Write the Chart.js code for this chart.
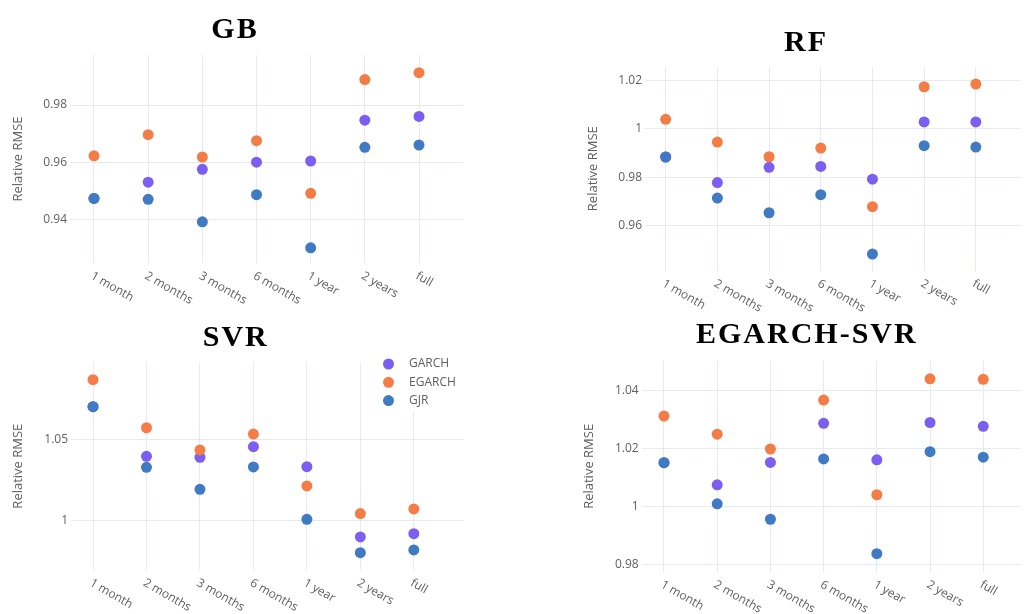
<!DOCTYPE html>
<html lang="en">
<head>
<meta charset="UTF-8">
<title>Relative RMSE by window</title>
<script src="https://cdn.jsdelivr.net/npm/chart.js"></script>
<style>
    body { margin: 0; background: #fff; overflow: hidden; }
    .wrap { position: relative; width: 1026px; height: 614px; }
    .wrap canvas { position: absolute; }
</style>
</head>
<body>
<div class="wrap">
    <canvas id="gb" width="513" height="330" style="left:0;top:0"></canvas>
    <canvas id="rf" width="513" height="330" style="left:513px;top:0"></canvas>
    <canvas id="svr" width="513" height="307" style="left:0;top:307px"></canvas>
    <canvas id="egsvr" width="513" height="307" style="left:513px;top:307px"></canvas>
</div>
<script>
// categories and series
const periods = ['1 month', '2 months', '3 months', '6 months', '1 year', '2 years', 'full'];
const models = ['GARCH', 'EGARCH', 'GJR'];

const gbGarch  = [0.9473, 0.9530, 0.9575, 0.9600, 0.9604, 0.9747, 0.9760];
const gbEgarch = [0.9622, 0.9696, 0.9618, 0.9675, 0.9491, 0.9889, 0.9913];
const gbGjr    = [0.9473, 0.9470, 0.9391, 0.9486, 0.9300, 0.9652, 0.9660];

const rfGarch  = [0.9884, 0.9778, 0.9841, 0.9845, 0.9792, 1.0029, 1.0029];
const rfEgarch = [1.0040, 0.9946, 0.9885, 0.9921, 0.9678, 1.0175, 1.0186];
const rfGjr    = [0.9884, 0.9714, 0.9653, 0.9728, 0.9482, 0.9931, 0.9925];

const svrGarch  = [1.0701, 1.0395, 1.0389, 1.0454, 1.0331, 0.9897, 0.9917];
const svrEgarch = [1.0868, 1.0571, 1.0434, 1.0532, 1.0212, 1.0041, 1.0070];
const svrGjr    = [1.0701, 1.0327, 1.0191, 1.0329, 1.0006, 0.9800, 0.9817];

const egGarch  = [1.0151, 1.0075, 1.0152, 1.0286, 1.0161, 1.0289, 1.0276];
const egEgarch = [1.0311, 1.0249, 1.0198, 1.0366, 1.0041, 1.0439, 1.0437];
const egGjr    = [1.0151, 1.0010, 0.9957, 1.0164, 0.9839, 1.0189, 1.0170];

// y tick labels
const gbTicks = [0.94, 0.96, 0.98];
const rfTicks = [0.96, 0.98, 1, 1.02];
const svrTicks = [1, 1.05];
const egTicks = [0.98, 1, 1.02, 1.04];

const colors = ['#7c5ff0', '#f47d47', '#3f7ac3'];
const gridColor = '#e8eaf3';
const textColor = '#5f5f5f';
const W = 513;

// titles, rotated x labels and the in-plot legend
function deco(name, f) {
    return {
        id: 'deco',
        beforeDatasetsDraw(chart) {
            if (!f.legend) return;
            const ctx = chart.ctx;
            ctx.save();
            ctx.fillStyle = '#fff';
            ctx.fillRect(378, 48, 85, 57);
            ctx.font = '12px "Open Sans"';
            ctx.textBaseline = 'middle';
            models.forEach((m, i) => {
                const y = 57 + i * 18.3;
                ctx.fillStyle = colors[i];
                ctx.beginPath();
                ctx.arc(388.5, y, 5.5, 0, Math.PI * 2);
                ctx.fill();
                ctx.fillStyle = textColor;
                ctx.fillText(m, 409, y);
            });
            ctx.restore();
        },
        afterDraw(chart) {
            const ctx = chart.ctx;
            const xs = chart.scales.x;
            const area = chart.chartArea;
            ctx.save();
            ctx.font = 'bold 30px "Liberation Serif"';
            ctx.fillStyle = '#000';
            ctx.textAlign = 'center';
            ctx.textBaseline = 'alphabetic';
            ctx.letterSpacing = '2px';
            ctx.fillText(name, f.tx + 1, f.ty);
            ctx.letterSpacing = '0px';
            ctx.font = '12px "Open Sans"';
            ctx.fillStyle = textColor;
            ctx.textAlign = 'left';
            ctx.textBaseline = 'middle';
            periods.forEach((p, i) => {
                ctx.save();
                ctx.translate(xs.getPixelForValue(i) - 2.4, area.bottom + 12);
                ctx.rotate(Math.PI / 6);
                ctx.fillText(p, 0, 0);
                ctx.restore();
            });
            ctx.restore();
        }
    };
}

function makeChart(id, name, garch, egarch, gjr, ticks, f) {
    const canvas = document.getElementById(id);
    const series = [garch, egarch, gjr];
    new Chart(canvas, {
        type: 'scatter',
        data: {
            datasets: series.map((vals, i) => ({
                label: models[i],
                data: vals.map((v, j) => ({ x: j, y: v })),
                backgroundColor: colors[i],
                borderWidth: 0,
                pointRadius: 5.5,
                pointHoverRadius: 5.5,
                order: 3 - i // GJR drawn on top
            }))
        },
        options: {
            responsive: false,
            animation: false,
            layout: { padding: { left: 0, top: f.top, right: W - f.right, bottom: canvas.height - f.bottom } },
            plugins: { legend: { display: false }, tooltip: { enabled: false } },
            scales: {
                x: {
                    type: 'linear',
                    min: f.xmin,
                    max: f.xmax,
                    afterBuildTicks: s => { s.ticks = periods.map((p, i) => ({ value: i })); },
                    afterFit: s => { s.height = 0; },
                    ticks: { display: false },
                    grid: { color: gridColor, drawTicks: false },
                    border: { display: false }
                },
                y: {
                    min: f.ymin,
                    max: f.ymax,
                    afterBuildTicks: s => { s.ticks = ticks.map(v => ({ value: v })); },
                    afterFit: s => { s.width = f.left; },
                    ticks: {
                        padding: 3,
                        color: textColor,
                        font: { family: '"Open Sans"', size: 12 },
                        callback: v => String(v)
                    },
                    grid: { color: gridColor, drawTicks: false },
                    border: { display: false },
                    title: {
                        display: true,
                        text: 'Relative RMSE',
                        color: textColor,
                        font: { family: '"Open Sans"', size: 13 },
                        padding: { top: f.ytitle - 7.8, bottom: 0 }
                    }
                }
            }
        },
        plugins: [deco(name, f)]
    });
}

makeChart('gb', 'GB', gbGarch, gbEgarch, gbGjr, gbTicks,
    { left: 70, right: 463, top: 55, bottom: 263, xmin: -0.443, xmax: 6.812,
      ymin: 0.9247, ymax: 0.9975, ytitle: 18, tx: 234, ty: 38.3 });
makeChart('rf', 'RF', rfGarch, rfEgarch, rfGjr, rfTicks,
    { left: 132, right: 513, top: 66.7, bottom: 270.7, xmin: -0.40, xmax: 6.864,
      ymin: 0.9413, ymax: 1.0258, ytitle: 80, tx: 292, ty: 50.7 });
makeChart('svr', 'SVR', svrGarch, svrEgarch, svrGjr, svrTicks,
    { left: 71, right: 463, top: 55.3, bottom: 263, xmin: -0.412, xmax: 6.92,
      ymin: 0.9693, ymax: 1.0975, ytitle: 18.3, tx: 234.7, ty: 39, legend: true });
makeChart('egsvr', 'EGARCH-SVR', egGarch, egEgarch, egGjr, egTicks,
    { left: 128.7, right: 513, top: 54, bottom: 264.7, xmin: -0.419, xmax: 6.70,
      ymin: 0.9777, ymax: 1.05, ytitle: 76, tx: 292.8, ty: 35.7 });
</script>
</body>
</html>
